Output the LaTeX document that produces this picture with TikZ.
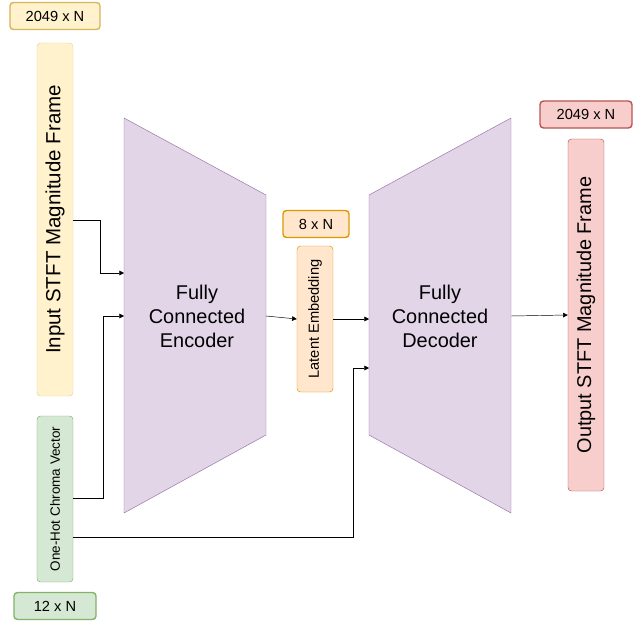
\documentclass[tikz,border=0pt]{standalone}
\usepackage{fontspec}
\setmainfont{Liberation Sans}
\usetikzlibrary{positioning,calc,arrows.meta}

\begin{document}
\begin{tikzpicture}[x=0.03cm,y=-0.03cm]
       \definecolor{yellow}{HTML}{FFF2CC}
       \definecolor{darkyellow}{HTML}{D6B656}
       \definecolor{orange}{HTML}{FFE6CC}
       \definecolor{darkorange}{HTML}{D79B00}
       \definecolor{red}{HTML}{F8CECC}
       \definecolor{darkred}{HTML}{B85450}
       \definecolor{green}{HTML}{D5E8D4}
       \definecolor{darkgreen}{HTML}{82B366}
       \definecolor{purple}{HTML}{E1D5E7}
       \definecolor{darkpurple}{HTML}{9673A6}

       \tikzset{
         bar/.style       = {rectangle, rounded corners=3pt, minimum width=1.08cm, inner sep=0pt},
         size/.style      = {rectangle, rounded corners=3pt, minimum height=0.81cm, font=\fontsize{12.5}{14}\selectfont, line width=1.2pt},
         block/.style     = {draw=darkpurple, fill=purple},
         connector/.style = {-{Triangle[length=4pt,width=4pt]}, thin}
       }

       \useasboundingbox (0,0) rectangle (640,644);

       % input side
       \node [size, fill=yellow, draw=darkyellow, minimum width=2.7cm] (insize) at (55,16) {2049 x N};
       \node [bar, fill=yellow, draw=darkyellow!60, minimum height=10.59cm] (input) at (55,219.5)
         {\rotatebox{90}{\fontsize{17.5}{20}\selectfont Input STFT Magnitude Frame}};
       \node [bar, fill=green, draw=darkgreen, minimum height=4.98cm] (chroma) at (55,499)
         {\rotatebox{90}{\fontsize{11.5}{13}\selectfont One-Hot Chroma Vector}};
       \node [size, fill=green, draw=darkgreen, minimum width=2.46cm] (chromasize) at (55,606) {12 x N};

       % encoder and decoder
       \draw [block] (124,118) -- (266,195) -- (266,435) -- (124,513) -- cycle;
       \draw [block] (369,195) -- (511,118) -- (511,513) -- (369,435) -- cycle;
       \node [align=center, font=\fontsize{17}{20.5}\selectfont] (encoder) at (197,316) {Fully\\Connected\\Encoder};
       \node [align=center, font=\fontsize{17}{20.5}\selectfont] (decoder) at (440,316) {Fully\\Connected\\Decoder};
       \coordinate (encin1) at (124,273);
       \coordinate (encin2) at (124,316);
       \coordinate (encout) at (266,316);
       \coordinate (decin1) at (369,319);
       \coordinate (decin2) at (369,368);
       \coordinate (decout) at (511,316);

       % latent
       \node [size, fill=orange, draw=darkorange, minimum width=1.98cm] (latsize) at (316,224) {8 x N};
       \node [bar, fill=orange, draw=darkorange, minimum height=4.38cm] (latent) at (315,319)
         {\rotatebox{90}{\fontsize{12.5}{14}\selectfont Latent Embedding}};

       % output side
       \node [size, fill=red, draw=darkred, minimum width=2.76cm] (outsize) at (586,114.5) {2049 x N};
       \node [bar, fill=red, draw=darkred, minimum height=10.56cm] (output) at (586,315)
         {\rotatebox{90}{\fontsize{17}{20}\selectfont Output STFT Magnitude Frame}};

       \draw [connector] (input.east |- 0,220) -| (100,273) -- (encin1);
       \draw [connector] (chroma.east |- 0,498) -| (103,316) -- (encin2);
       \draw [connector] (encout) -- (latent.west);
       \draw [connector] (latent.east) -- (decin1);
       \draw [connector] (chroma.east |- 0,537) -| (353,368) -- (decin2);
       \draw [connector] (decout) -- (output.west);
\end{tikzpicture}
\end{document}
